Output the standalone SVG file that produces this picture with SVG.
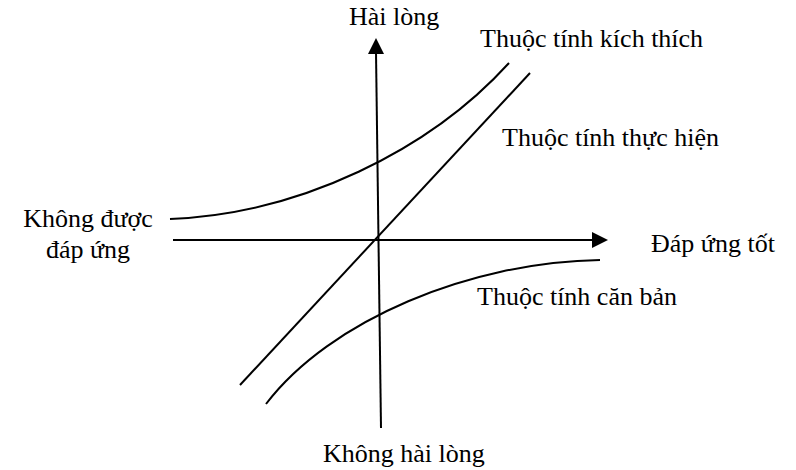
<svg xmlns="http://www.w3.org/2000/svg" width="796" height="470" viewBox="0 0 796 470">
<defs>
<style>
.ln{fill:none;stroke:#000;stroke-width:2}
.ah{fill:#000;stroke:none}
text{font-family:"Liberation Serif","Times New Roman",serif;font-size:26px;fill:#000}
</style>
</defs>
<rect width="796" height="470" fill="#fff"/>
<g id="connectors">
<line class="ln" x1="381" y1="428" x2="376" y2="52"/>
<polygon class="ah" points="376,38 368,54 384,54"/>
<line class="ln" x1="173" y1="240" x2="594" y2="240"/>
<polygon class="ah" points="608,240 592,232 592,248"/>
<path class="ln" d="M240,385 L530,73"/>
<path class="ln" d="M170,219 C300,214 430,150 509,63"/>
<path class="ln" d="M266,404 C330,320 470,262 600,260"/>
</g>
<g id="n-hailong"><text x="349" y="25">Hài lòng</text></g>
<g id="n-kichthich"><text x="480" y="47">Thuộc tính kích thích</text></g>
<g id="n-thuchien"><text x="502" y="146">Thuộc tính thực hiện</text></g>
<g id="n-khongduoc"><text x="88" y="227" text-anchor="middle">Không được</text><text x="88" y="258" text-anchor="middle">đáp ứng</text></g>
<g id="n-daptot"><text x="651" y="252">Đáp ứng tốt</text></g>
<g id="n-canban"><text x="477" y="305">Thuộc tính căn bản</text></g>
<g id="n-khonghailong"><text x="323" y="462">Không hài lòng</text></g>
</svg>
